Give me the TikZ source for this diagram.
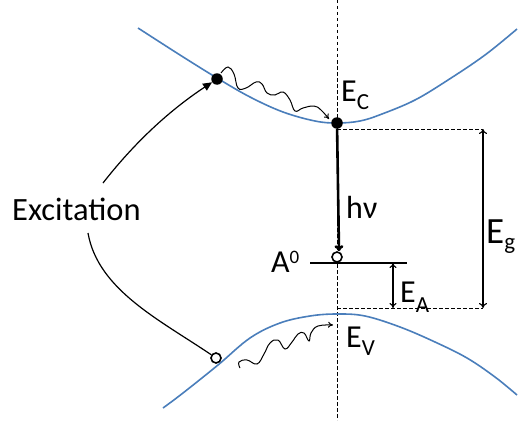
\documentclass[tikz,border=0pt]{standalone}
\usepackage{fontspec}
\setmainfont{Carlito}
\usetikzlibrary{arrows.meta}
\definecolor{band}{RGB}{74,126,187}
\newcommand\lsub[2][8pt]{\raisebox{-#1}{\fontsize{23}{23}\selectfont #2}}
\begin{document}
\begin{tikzpicture}[x=1pt,y=-1pt,
  bandline/.style={band,line width=1.6pt},
  guide/.style={line width=1pt,dash pattern=on 3.5pt off 2.5pt},
  dot/.style={circle,fill=black,inner sep=0,minimum size=11.5pt},
  hole/.style={circle,draw,line width=1.6pt,fill=white,inner sep=0,minimum size=10pt},
  lab/.style={anchor=base west,inner sep=0,font=\fontsize{32}{32}\selectfont},
  thinarrow/.style={line width=1.2pt},
  wave/.style={line width=1pt,-{To[length=5pt,width=6pt]}},
]
\useasboundingbox (0,0) rectangle (532,420);
% dashed guides
\coordinate (vt) at (337,0);
\coordinate (vb) at (337,420);
\coordinate (ect) at (337,129);
\coordinate (evt) at (337,308);
\coordinate (egt) at (483,129);
\coordinate (egb) at (483,308);
\draw[guide] (vt) -- (vb);
\draw[guide] (ect) -- (egt);
\draw[guide] (evt) -- (egb);
% bands
\draw[bandline] plot[smooth,tension=0.6] coordinates {(138,28) (180,55) (217,78) (250,97) (283,112) (315,121) (337,123) (360,121) (382,114) (415,100) (448,80) (485,55) (517,29)};
\draw[bandline] plot[smooth,tension=0.6] coordinates {(163,408) (183,393) (218,365) (250,338) (280,323) (310,316) (337,314) (365,316) (400,327) (435,342) (467,358) (495,377) (517,395)};
% acceptor level
\coordinate (l1) at (310,263);
\coordinate (l2) at (407,263);
\draw[line width=1.3pt] (l1) -- (l2);
% nodes
\node[dot] (e) at (217,79) {};
\node[dot] (ec) at (337,123) {};
\node[hole] (acc) at (337,257) {};
\node[hole] (h) at (216,358) {};
% Eg and EA arrows
\draw[line width=1.1pt,{To[length=5pt,width=8pt]}-{To[length=5pt,width=8pt]}] (egt) -- (egb);
\coordinate (eat) at (393,263);
\coordinate (eab) at (393,308);
\draw[line width=1.1pt,{To[length=5pt,width=7pt]}-{To[length=5pt,width=7pt]}] (eat) -- (eab);
% h nu
\draw[line width=2.6pt,-{To[length=6pt,width=9pt]}] (ec) -- ([xshift=2pt]acc.north);
% excitation
\node[lab,font=\fontsize{32.5}{32.5}\selectfont] (exc) at (12,220) {Excitation};
\coordinate (x1) at (103,183);
\coordinate (x2) at (88,233);
\draw[thinarrow,-{Triangle[length=9pt,width=8pt]}] (x1) .. controls (135,142) and (170,110) .. (e);
\draw[thinarrow] (x2) .. controls (98,290) and (160,320) .. (h);
% relaxation waves
\draw[wave] plot[smooth,tension=0.7] coordinates {(221,73) (228,67) (234,74) (238,88) (246,88) (256,82) (262,84) (267,93) (275,95) (283,92) (290,100) (295,111) (303,108) (314,106) (321,110) (329,119)};
\draw[wave] plot[smooth,tension=0.7] coordinates {(240,368) (239,362) (247,360) (257,364) (264,354) (270,343) (278,340) (285,349) (292,342) (298,334) (304,333) (309,341) (311,333) (318,326) (333,325)};
% labels
\node[lab] (lec) at (341,101) {E\lsub{C}};
\node[lab] (lhv) at (346,218) {hν};
\node[lab] (la) at (271,272) {A\raisebox{9pt}{\fontsize{19}{19}\selectfont 0}};
\node[lab,font=\fontsize{37}{37}\selectfont] (leg) at (486,243) {E\lsub[6pt]{g}};
\node[lab] (lea) at (400,302) {E\lsub[10pt]{A}};
\node[lab] (lev) at (346,347) {E\lsub{V}};
\end{tikzpicture}
\end{document}
